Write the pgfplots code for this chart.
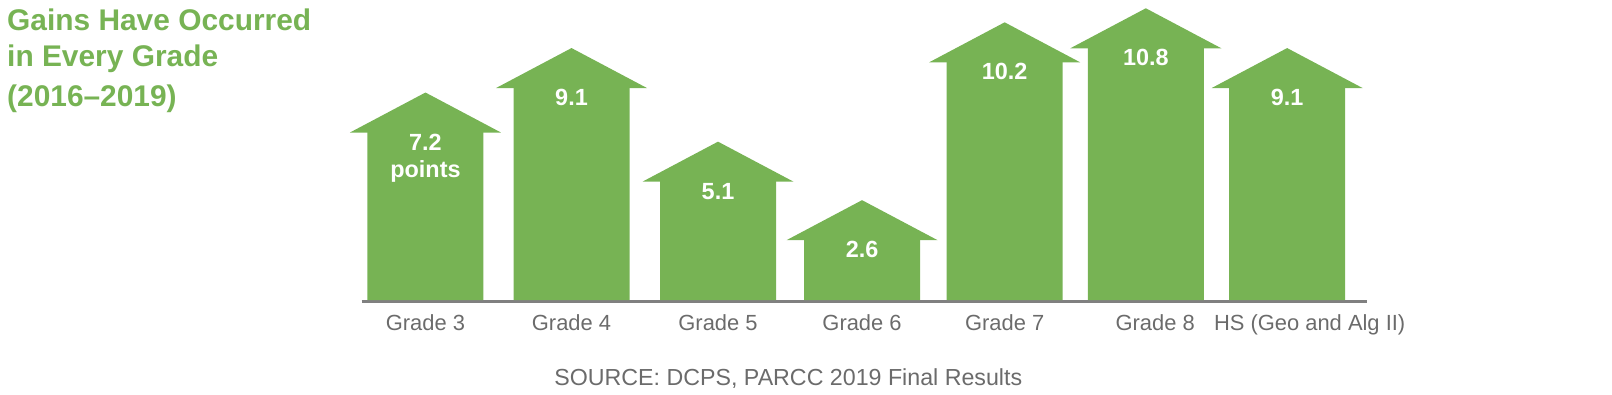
\documentclass[border=0pt]{standalone}
\usepackage{pgfplots}
\pgfplotsset{compat=1.18}
\usepackage{fontspec}
\setmainfont{Liberation Sans}
\definecolor{bargreen}{HTML}{77B354}
\definecolor{txtgray}{HTML}{6B6B6B}
\definecolor{linegray}{HTML}{808080}
\pgfdeclareplotmark{arrowhead}{%
  \pgfpathmoveto{\pgfpoint{-75.5bp}{-1bp}}%
  \pgfpathlineto{\pgfpoint{75.5bp}{-1bp}}%
  \pgfpathlineto{\pgfpoint{0bp}{39bp}}%
  \pgfpathclose
  \pgfusepathqfill}
\begin{document}
\begin{tikzpicture}
\path[use as bounding box] (0,0) rectangle (1612bp,395bp);
\begin{axis}[
  at={(361.7bp,95bp)}, anchor=south west,
  scale only axis, width=1005bp, height=292.5bp,
  xmin=-0.444, xmax=6.554, ymin=0, ymax=12.5,
  clip=false,
  axis line style={draw=none},
  ytick=\empty,
  xtick={0,1.017,2.037,3.04,4.033,5.016,6},
  xticklabels={Grade 3,Grade 4,Grade 5,Grade 6,Grade 7,\hspace*{18.6bp}Grade 8,\hspace*{45bp}HS (Geo and Alg II)},
  major tick length=0pt,
  xticklabel style={anchor=base, yshift=-30bp, text=txtgray, font=\fontsize{22}{26}\selectfont, inner sep=0pt},
]
\draw[linegray, line width=3bp] ([yshift=-1.5bp]rel axis cs:0,0) -- ([yshift=-1.5bp]rel axis cs:1,0);
\addplot[ybar, bar width=116bp, bar shift=0pt, fill=bargreen, draw=none]
  coordinates {(0,7.2) (1.017,9.1) (2.037,5.1) (3.04,2.6) (4.033,10.2) (5.016,10.8) (6,9.1)};
\addplot[only marks, mark=arrowhead, mark options={fill=bargreen, draw=none},
  point meta=explicit symbolic, nodes near coords,
  every node near coord/.append style={anchor=base, yshift=-18.5bp, inner sep=0pt, text=white, font=\bfseries\fontsize{23.5}{27}\selectfont}]
  coordinates {(0,7.2) [7.2] (1.017,9.1) [9.1] (2.037,5.1) [5.1] (3.04,2.6) [2.6] (4.033,10.2) [10.2] (5.016,10.8) [10.8] (6,9.1) [9.1]};
\addplot[only marks, mark=none, draw=none,
  point meta=explicit symbolic, nodes near coords,
  every node near coord/.append style={anchor=base, yshift=-46bp, inner sep=0pt, text=white, font=\bfseries\fontsize{23.5}{27}\selectfont}]
  coordinates {(0,7.2) [points]};
\end{axis}
\node[anchor=base west, inner sep=0pt, text=bargreen, font=\bfseries\fontsize{30}{36}\selectfont] at (7bp,364.5bp) {Gains Have Occurred};
\node[anchor=base west, inner sep=0pt, text=bargreen, font=\bfseries\fontsize{30}{36}\selectfont] at (7bp,328bp) {in Every Grade};
\node[anchor=base west, inner sep=0pt, text=bargreen, font=\bfseries\fontsize{30}{36}\selectfont] at (7bp,288bp) {(2016--2019)};
\node[anchor=base, inner sep=0pt, text=txtgray, font=\fontsize{23.3}{27}\selectfont] at (788.3bp,10bp) {SOURCE: DCPS, PARCC 2019 Final Results};
\end{tikzpicture}
\end{document}
